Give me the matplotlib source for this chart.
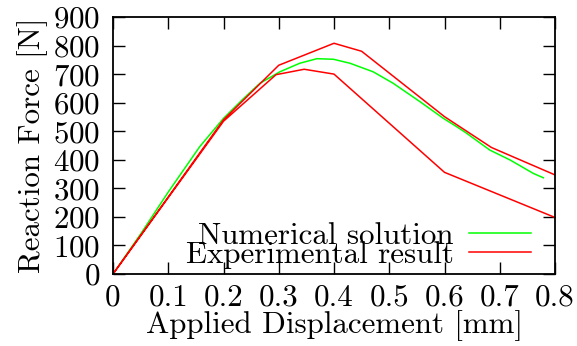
import matplotlib
matplotlib.use("Agg")
import matplotlib.pyplot as plt
import numpy as np

plt.rcParams["font.family"] = ["cmr10", "DejaVu Serif"]
plt.rcParams["axes.formatter.use_mathtext"] = True
plt.rcParams["mathtext.fontset"] = "cm"

# Numerical solution (FE model)
num_disp = [0.0, 0.05, 0.10, 0.157, 0.20, 0.235, 0.266, 0.302, 0.338, 0.369,
            0.399, 0.429, 0.471, 0.507, 0.556, 0.598, 0.622, 0.640, 0.682,
            0.719, 0.761, 0.779]
num_force = [0, 140, 287, 446, 545, 612, 668, 708, 738, 754,
             752, 738, 708, 668, 603, 545, 516, 493, 434,
             399, 352, 337]

# Experimental result: upper and lower envelope of the test scatter
exp_upper_disp = [0.0, 0.2, 0.3, 0.4, 0.45, 0.6, 0.685, 0.8]
exp_upper_force = [0, 540, 731, 808, 780, 551, 443, 347]
exp_lower_disp = [0.0, 0.2, 0.295, 0.346, 0.4, 0.6, 0.8]
exp_lower_force = [0, 535, 698, 717, 700, 356, 198]

x_ticks = [0, 0.1, 0.2, 0.3, 0.4, 0.5, 0.6, 0.7, 0.8]
x_ticklabels = ["0", "0.1", "0.2", "0.3", "0.4", "0.5", "0.6", "0.7", "0.8"]
y_ticks = list(range(0, 901, 100))

fs = 22.3
fig = plt.figure(figsize=(5.77, 3.46), dpi=100)
ax = fig.add_axes([113 / 577, 72 / 346, 442 / 577, 257 / 346])

ax.plot(num_disp, num_force, color="#00ff00", lw=1.1, label="Numerical solution")
exp_x = exp_upper_disp + [np.nan] + exp_lower_disp
exp_y = exp_upper_force + [np.nan] + exp_lower_force
ax.plot(exp_x, exp_y, color="#ff0000", lw=1.1, label="Experimental result")

ax.set_xlim(0, 0.8)
ax.set_ylim(0, 900)
ax.set_xticks(x_ticks)
ax.set_xticklabels(x_ticklabels)
ax.set_yticks(y_ticks)
ax.tick_params(direction="in", length=8.5, width=1, top=True, right=True,
               labelsize=fs)
ax.tick_params(axis="y", pad=9)
ax.tick_params(axis="x", pad=7)
for s in ax.spines.values():
    s.set_linewidth(1.3)

ax.set_xlabel("Applied Displacement [mm]", fontsize=fs, labelpad=-1)
ax.set_ylabel("Reaction Force [N]", fontsize=fs, labelpad=4)

leg = ax.legend(loc="lower right", bbox_to_anchor=(0.946, 0.02),
                frameon=False, markerfirst=False, fontsize=fs,
                handlelength=2.0, handletextpad=0.5, labelspacing=-0.28,
                borderpad=0.0, borderaxespad=0.0)

fig.savefig("out.png", dpi=100)
